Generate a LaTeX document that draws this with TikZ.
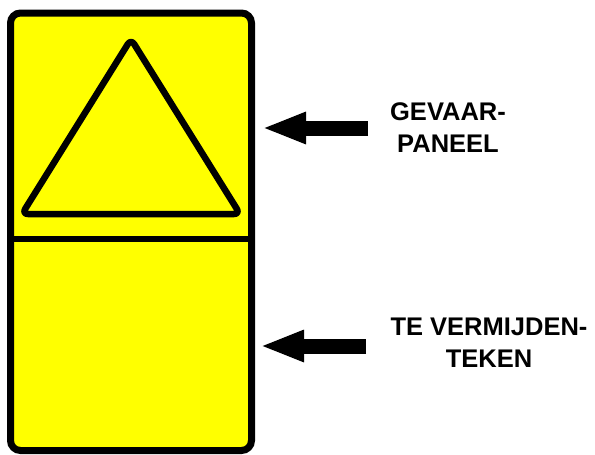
\documentclass[tikz,border=0pt]{standalone}
\usepackage{fontspec}
\setmainfont{Liberation Sans}
\usetikzlibrary{arrows.meta}
\definecolor{signyellow}{RGB}{255,255,0}
\tikzset{
  panelframe/.style={draw=black, fill=signyellow, line width=7pt, rounded corners=10pt},
  divider/.style={draw=black, line width=6pt},
  hazardtri/.style={draw=black, line width=6.5pt, rounded corners=6pt, line join=round},
  pointer/.style={line width=15pt, -{Triangle[length=44pt,width=29pt]}},
  label/.style={font=\bfseries\fontsize{25.5}{32}\selectfont, align=center, inner sep=0pt}
}
\begin{document}
\begin{tikzpicture}[x=1pt,y=-1pt]
\useasboundingbox (0,0) rectangle (595,455);
% panel
\path[panelframe] (10.5,13) rectangle (251.5,450.5);
\draw[divider] (10.5,238.5) -- (251.5,238.5);
\draw[hazardtri] (131,39) -- (240,214) -- (22,214) -- cycle;
% labels
\node[label] (gevaar) at (448,128) {GEVAAR-\\PANEEL};
\node[label] (temijden) at (489,343) {TE VERMIJDEN-\\TEKEN};
% arrows
\coordinate (s1) at (368,128);
\coordinate (t1) at (262,128);
\coordinate (s2) at (366,346);
\coordinate (t2) at (260,346);
\draw[pointer] (s1) -- (t1);
\draw[pointer] (s2) -- (t2);
\end{tikzpicture}
\end{document}
